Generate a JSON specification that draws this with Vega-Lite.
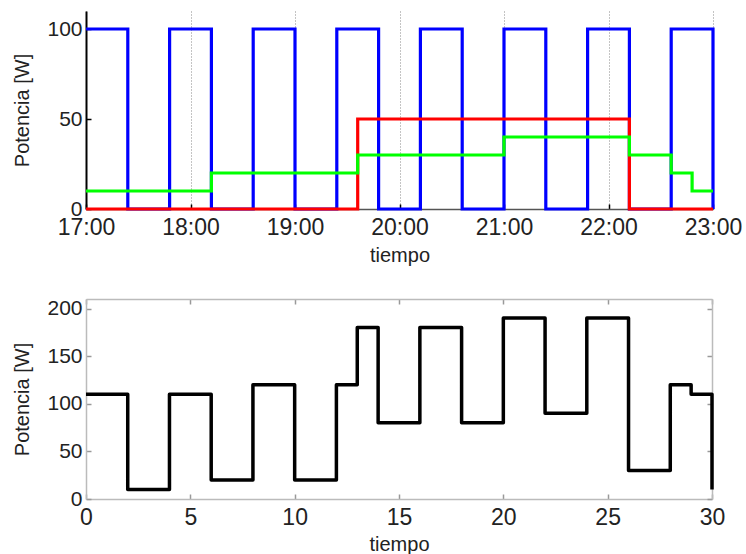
{
  "$schema": "https://vega.github.io/schema/vega-lite/v6.json",
  "background": "white",
  "padding": {"left": 12, "top": 11, "right": 0, "bottom": 0},
  "spacing": 32,
  "config": {
    "font": "Liberation Sans",
    "view": {"stroke": null},
    "axis": {"labelColor": "#222", "titleColor": "#222", "labelFont": "Liberation Sans", "titleFont": "Liberation Sans", "titleFontWeight": "normal", "labelFlush": false}
  },
  "vconcat": [
    {
      "width": 627,
      "height": 198,
      "data": {"values": [
        {"t": 17.0, "p": 100, "s": "azul"}, {"t": 17.4, "p": 0, "s": "azul"},
        {"t": 17.8, "p": 100, "s": "azul"}, {"t": 18.2, "p": 0, "s": "azul"},
        {"t": 18.6, "p": 100, "s": "azul"}, {"t": 19.0, "p": 0, "s": "azul"},
        {"t": 19.4, "p": 100, "s": "azul"}, {"t": 19.8, "p": 0, "s": "azul"},
        {"t": 20.2, "p": 100, "s": "azul"}, {"t": 20.6, "p": 0, "s": "azul"},
        {"t": 21.0, "p": 100, "s": "azul"}, {"t": 21.4, "p": 0, "s": "azul"},
        {"t": 21.8, "p": 100, "s": "azul"}, {"t": 22.2, "p": 0, "s": "azul"},
        {"t": 22.6, "p": 100, "s": "azul"}, {"t": 23.0, "p": 0, "s": "azul"},
        {"t": 17.0, "p": 0, "s": "rojo"}, {"t": 19.6, "p": 50, "s": "rojo"},
        {"t": 22.2, "p": 0, "s": "rojo"}, {"t": 23.0, "p": 0, "s": "rojo"},
        {"t": 17.0, "p": 10, "s": "verde"}, {"t": 18.2, "p": 20, "s": "verde"},
        {"t": 19.6, "p": 30, "s": "verde"}, {"t": 21.0, "p": 40, "s": "verde"},
        {"t": 22.2, "p": 30, "s": "verde"}, {"t": 22.6, "p": 20, "s": "verde"},
        {"t": 22.8, "p": 10, "s": "verde"}, {"t": 23.0, "p": 10, "s": "verde"}
      ]},
      "mark": {"type": "line", "interpolate": "step-after", "strokeWidth": 3.2},
      "encoding": {
        "x": {"field": "t", "type": "quantitative",
          "scale": {"domain": [17, 23], "nice": false, "zero": false},
          "axis": {"values": [17, 18, 19, 20, 21, 22, 23], "labelExpr": "datum.value + ':00'",
            "title": "tiempo", "titleFontSize": 20, "titlePadding": 6, "labelFontSize": 23, "labelPadding": 12,
            "grid": true, "gridDash": [1, 2], "gridColor": "#888", "gridWidth": 1,
            "domainColor": "#555", "domainWidth": 1.5, "tickColor": "#000", "tickSize": -5, "tickWidth": 1.5}},
        "y": {"field": "p", "type": "quantitative",
          "scale": {"domain": [0, 110], "nice": false},
          "axis": {"values": [0, 50, 100], "title": "Potencia [W]", "titleFontSize": 20, "titlePadding": 14,
            "labelFontSize": 21, "labelPadding": 9, "grid": false,
            "domainColor": "#000", "domainWidth": 2, "tickColor": "#000", "tickSize": -5, "tickWidth": 1.5}},
        "color": {"field": "s", "type": "nominal",
          "scale": {"domain": ["azul", "rojo", "verde"], "range": ["#0000ff", "#ff0000", "#00ff00"]},
          "legend": null}
      }
    },
    {
      "width": 626,
      "height": 200,
      "data": {"values": [
        {"t": 0, "p": 110}, {"t": 2, "p": 10}, {"t": 4, "p": 110}, {"t": 6, "p": 20},
        {"t": 8, "p": 120}, {"t": 10, "p": 20}, {"t": 12, "p": 120}, {"t": 13, "p": 180},
        {"t": 14, "p": 80}, {"t": 16, "p": 180}, {"t": 18, "p": 80}, {"t": 20, "p": 190},
        {"t": 22, "p": 90}, {"t": 24, "p": 190}, {"t": 26, "p": 30}, {"t": 28, "p": 120},
        {"t": 29, "p": 110}, {"t": 30, "p": 10}
      ]},
      "layer": [
        {
          "mark": {"type": "line", "interpolate": "step-after", "strokeWidth": 3.5, "color": "#000", "strokeJoin": "round"},
          "encoding": {
            "x": {"field": "t", "type": "quantitative",
              "scale": {"domain": [0, 30], "nice": false},
              "axis": {"orient": "bottom", "values": [0, 5, 10, 15, 20, 25, 30], "title": "tiempo", "titleFontSize": 20,
                "titlePadding": 5, "labelFontSize": 23, "labelPadding": 12, "grid": false,
                "domainColor": "#bbb", "domainWidth": 1.5, "tickColor": "#999", "tickSize": -5, "tickWidth": 1.5}},
            "y": {"field": "p", "type": "quantitative",
              "scale": {"domain": [0, 210], "nice": false},
              "axis": {"orient": "left", "values": [0, 50, 100, 150, 200], "title": "Potencia [W]", "titleFontSize": 20,
                "titlePadding": 14, "labelFontSize": 21, "labelPadding": 9, "grid": false,
                "domainColor": "#bbb", "domainWidth": 1.5, "tickColor": "#999", "tickSize": -5, "tickWidth": 1.5}}
          }
        },
        {
          "mark": {"type": "line", "interpolate": "step-after", "opacity": 0},
          "encoding": {
            "x": {"field": "t", "type": "quantitative",
              "scale": {"domain": [0, 30], "nice": false},
              "axis": {"orient": "top", "values": [0, 5, 10, 15, 20, 25, 30], "labels": false, "title": null, "grid": false,
                "domainColor": "#bbb", "domainWidth": 1.5, "tickColor": "#999", "tickSize": -5, "tickWidth": 1.5}},
            "y": {"field": "p", "type": "quantitative",
              "scale": {"domain": [0, 210], "nice": false},
              "axis": {"orient": "right", "values": [0, 50, 100, 150, 200], "labels": false, "title": null, "grid": false,
                "domainColor": "#bbb", "domainWidth": 1.5, "tickColor": "#999", "tickSize": -5, "tickWidth": 1.5}}
          }
        }
      ],
      "resolve": {"axis": {"x": "independent", "y": "independent"}}
    }
  ]
}
